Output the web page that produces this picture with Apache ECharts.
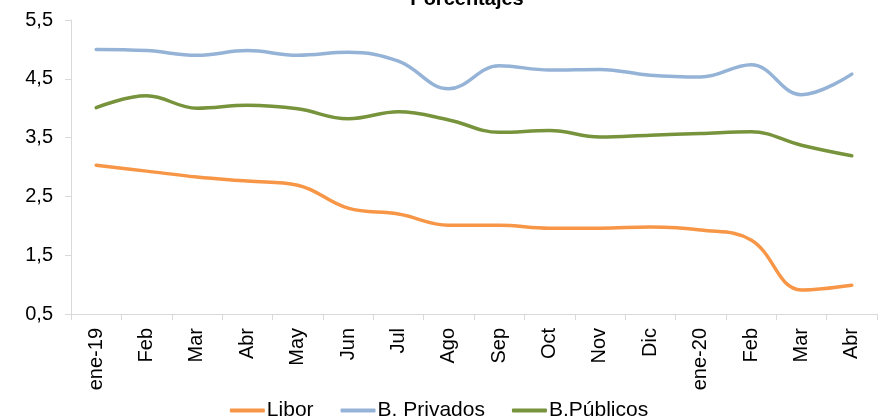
<!DOCTYPE html>
<html>
<head>
<meta charset="utf-8">
<script src="https://cdn.jsdelivr.net/npm/echarts@6/dist/echarts.min.js"></script>
<style>
  html, body { margin: 0; padding: 0; background: #fff; }
  #chart { width: 878px; height: 420px; }
</style>
</head>
<body>
<div id="chart"></div>
<script>
// Monthly rates, January 2019 to April 2020 (percent)
const months = ['ene-19', 'Feb', 'Mar', 'Abr', 'May', 'Jun', 'Jul', 'Ago', 'Sep', 'Oct', 'Nov', 'Dic', 'ene-20', 'Feb', 'Mar', 'Abr'];
const libor = [3.03, 2.93, 2.83, 2.76, 2.69, 2.30, 2.20, 2.01, 2.01, 1.96, 1.96, 1.98, 1.93, 1.76, 0.91, 0.99];
const privados = [5.00, 4.98, 4.90, 4.98, 4.90, 4.95, 4.80, 4.33, 4.72, 4.65, 4.66, 4.56, 4.53, 4.74, 4.23, 4.58];
const publicos = [4.01, 4.21, 4.00, 4.05, 3.99, 3.82, 3.94, 3.80, 3.59, 3.62, 3.51, 3.54, 3.57, 3.60, 3.37, 3.19];
const yTicks = { min: 0.5, max: 5.5, step: 1 };

const font = '"Liberation Sans", Arial, sans-serif';
const axisGray = '#d9d9d9';

function lineSeries(name, data, color) {
  return {
    name: name,
    type: 'line',
    data: data,
    smooth: 0.4,
    symbol: 'none',
    lineStyle: { width: 3.5, color: color, cap: 'round' },
    itemStyle: { color: color }
  };
}

const chart = echarts.init(document.getElementById('chart'), null, { renderer: 'canvas' });
chart.setOption({
  animation: false,
  title: {
    text: 'Porcentajes',
    left: 462,
    textAlign: 'center',
    top: -16,
    textStyle: { fontFamily: font, fontSize: 20, fontWeight: 'bold', color: '#000' }
  },
  grid: { left: 71, right: 1, top: 20, bottom: 106, containLabel: false },
  legend: {
    bottom: -6,
    left: 'center',
    icon: 'roundRect',
    itemWidth: 35,
    itemHeight: 4,
    itemGap: 27,
    textStyle: { fontFamily: font, fontSize: 21, color: '#000', padding: [0, 0, 0, -3] },
    data: ['Libor', 'B. Privados', 'B.Públicos']
  },
  xAxis: {
    type: 'category',
    data: months,
    boundaryGap: true,
    axisLine: { lineStyle: { color: axisGray, width: 1 } },
    axisTick: { show: true, length: 6, lineStyle: { color: axisGray } },
    axisLabel: { rotate: 90, margin: 14, interval: 0, fontFamily: font, fontSize: 20, color: '#000' },
    splitLine: { show: false }
  },
  yAxis: {
    type: 'value',
    min: yTicks.min,
    max: yTicks.max,
    interval: yTicks.step,
    axisLine: { show: true, lineStyle: { color: axisGray, width: 1 } },
    axisTick: { show: true, length: 6, lineStyle: { color: axisGray } },
    axisLabel: {
      margin: 18,
      fontFamily: font,
      fontSize: 20,
      color: '#000',
      formatter: v => v.toFixed(1).replace('.', ',')
    },
    splitLine: { show: false }
  },
  series: [
    lineSeries('Libor', libor, '#F79646'),
    lineSeries('B. Privados', privados, '#95B3D7'),
    lineSeries('B.Públicos', publicos, '#77933C')
  ]
});
</script>
</body>
</html>
